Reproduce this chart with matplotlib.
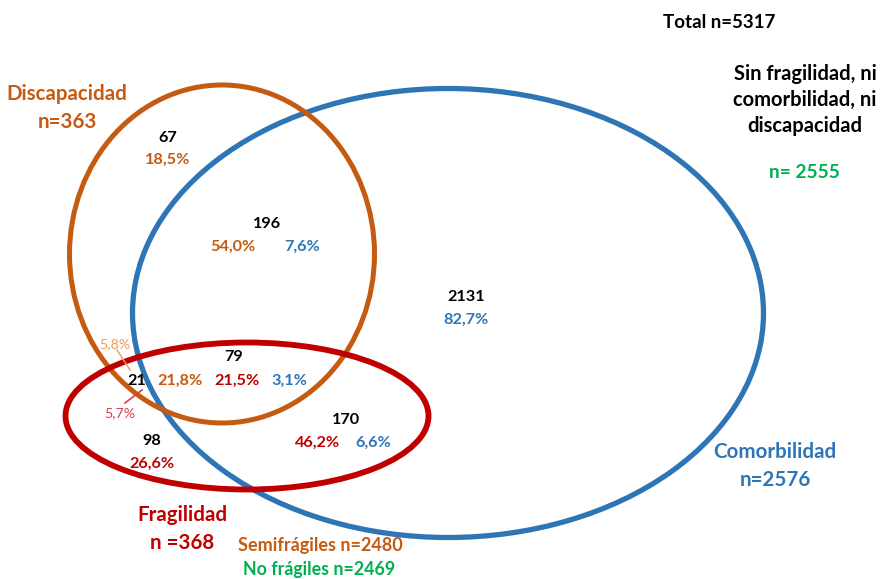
import matplotlib.pyplot as plt
from matplotlib.patches import Ellipse

plt.rcParams['font.family'] = ['Lato', 'DejaVu Sans']

# datos
conjuntos = ['Discapacidad', 'Comorbilidad', 'Fragilidad']
n_conjuntos = [363, 2576, 368]
total = 5317
n_ninguno = 2555
semifragiles = 2480
no_fragiles = 2469

# regiones: conteo y porcentajes (disc, comorb, frag)
regiones = ['D', 'DC', 'C', 'DCF', 'DF', 'CF', 'F']
conteos = [67, 196, 2131, 79, 21, 170, 98]
pct_disc = ['18,5%', '54,0%', None, '21,8%', '5,8%', None, None]
pct_comorb = [None, '7,6%', '82,7%', '3,1%', None, '6,6%', None]
pct_frag = [None, None, None, '21,5%', '5,7%', '46,2%', '26,6%']

# colores
NARANJA = '#C55A11'
AZUL = '#2E75B6'
ROJO = '#C00000'
VERDE = '#00B050'
NARANJA_CLARO = '#EE9A5E'
ROJO_CLARO = '#D9404C'

fig = plt.figure(figsize=(8.81, 5.79), dpi=100)
ax = fig.add_axes([0, 0, 1, 1])
ax.set_xlim(0, 881)
ax.set_ylim(579, 0)
ax.axis('off')

# elipses (centro x, centro y, ancho, alto, color, grosor)
geom = {'Discapacidad': (222, 254, 305, 338, NARANJA, 3.6),
        'Comorbilidad': (448, 313, 631, 449, AZUL, 3.8),
        'Fragilidad': (247, 416, 363, 147, ROJO, 4.2)}
for nombre in ['Comorbilidad', 'Discapacidad', 'Fragilidad']:
    cx, cy, w, h, col, lw = geom[nombre]
    ax.add_patch(Ellipse((cx, cy), w, h, fill=False, ec=col, lw=lw))

# etiquetas de conjuntos
lab = {'Discapacidad': (67, 94, NARANJA), 'Comorbilidad': (775, 452, AZUL),
       'Fragilidad': (182, 515, ROJO)}
for nombre, n in zip(conjuntos, n_conjuntos):
    x, y, col = lab[nombre]
    ax.text(x, y, nombre, color=col, fontsize=14.8, fontweight='bold', ha='center', va='center')
    txt = f'n ={n}' if nombre == 'Fragilidad' else f'n={n}'
    ax.text(x, y + 28, txt, color=col, fontsize=14.8, fontweight='bold', ha='center', va='center')

ax.text(719, 22, f'Total n={total}', fontsize=13.5, fontweight='bold', ha='center', va='center')
ax.text(805, 100, 'Sin fragilidad, ni\ncomorbilidad, ni\ndiscapacidad', fontsize=14.5,
        fontweight='bold', ha='center', va='center', linespacing=1.35)
ax.text(804, 172, f'n= {n_ninguno}', color=VERDE, fontsize=13.8, fontweight='bold',
        ha='center', va='center')
ax.text(320, 546, f'Semifrágiles n={semifragiles}', color=NARANJA, fontsize=13,
        fontweight='bold', ha='center', va='center')
ax.text(319, 570, f'No frágiles n={no_fragiles}', color=VERDE, fontsize=12.8,
        fontweight='bold', ha='center', va='center')

# posiciones de los textos de cada región
pos_n = {'D': (168, 138), 'DC': (267, 224), 'C': (466, 297), 'DCF': (234, 357),
         'DF': (137, 381), 'CF': (346, 420), 'F': (152, 441)}
pos_d = {'D': (168, 160), 'DC': (233, 247), 'DCF': (180, 381), 'DF': (115, 344)}
pos_c = {'DC': (302, 247), 'C': (466, 320), 'DCF': (289, 381), 'CF': (373, 443)}
pos_f = {'DCF': (237, 381), 'DF': (120, 413), 'CF': (318, 443), 'F': (152, 464)}

kw = dict(fontsize=11.7, fontweight='bold', ha='center', va='center')
for i, r in enumerate(regiones):
    x, y = pos_n[r]
    ax.text(x, y, str(conteos[i]), color='black', **kw)
    if pct_disc[i]:
        x, y = pos_d[r]
        if r == 'DF':
            ax.text(x, y, pct_disc[i], color=NARANJA_CLARO, fontsize=10.3, ha='center', va='center')
        else:
            ax.text(x, y, pct_disc[i], color=NARANJA, **kw)
    if pct_comorb[i]:
        x, y = pos_c[r]
        ax.text(x, y, pct_comorb[i], color=AZUL, **kw)
    if pct_frag[i]:
        x, y = pos_f[r]
        if r == 'DF':
            ax.text(x, y, pct_frag[i], color=ROJO_CLARO, fontsize=10.3, ha='center', va='center')
        else:
            ax.text(x, y, pct_frag[i], color=ROJO, **kw)

# líneas guía de los porcentajes pequeños
ax.plot([117, 130], [350, 370], color=NARANJA_CLARO, lw=1)
ax.plot([125, 142], [403, 390], color=ROJO_CLARO, lw=1.2)

plt.savefig('out.png', dpi=100)
